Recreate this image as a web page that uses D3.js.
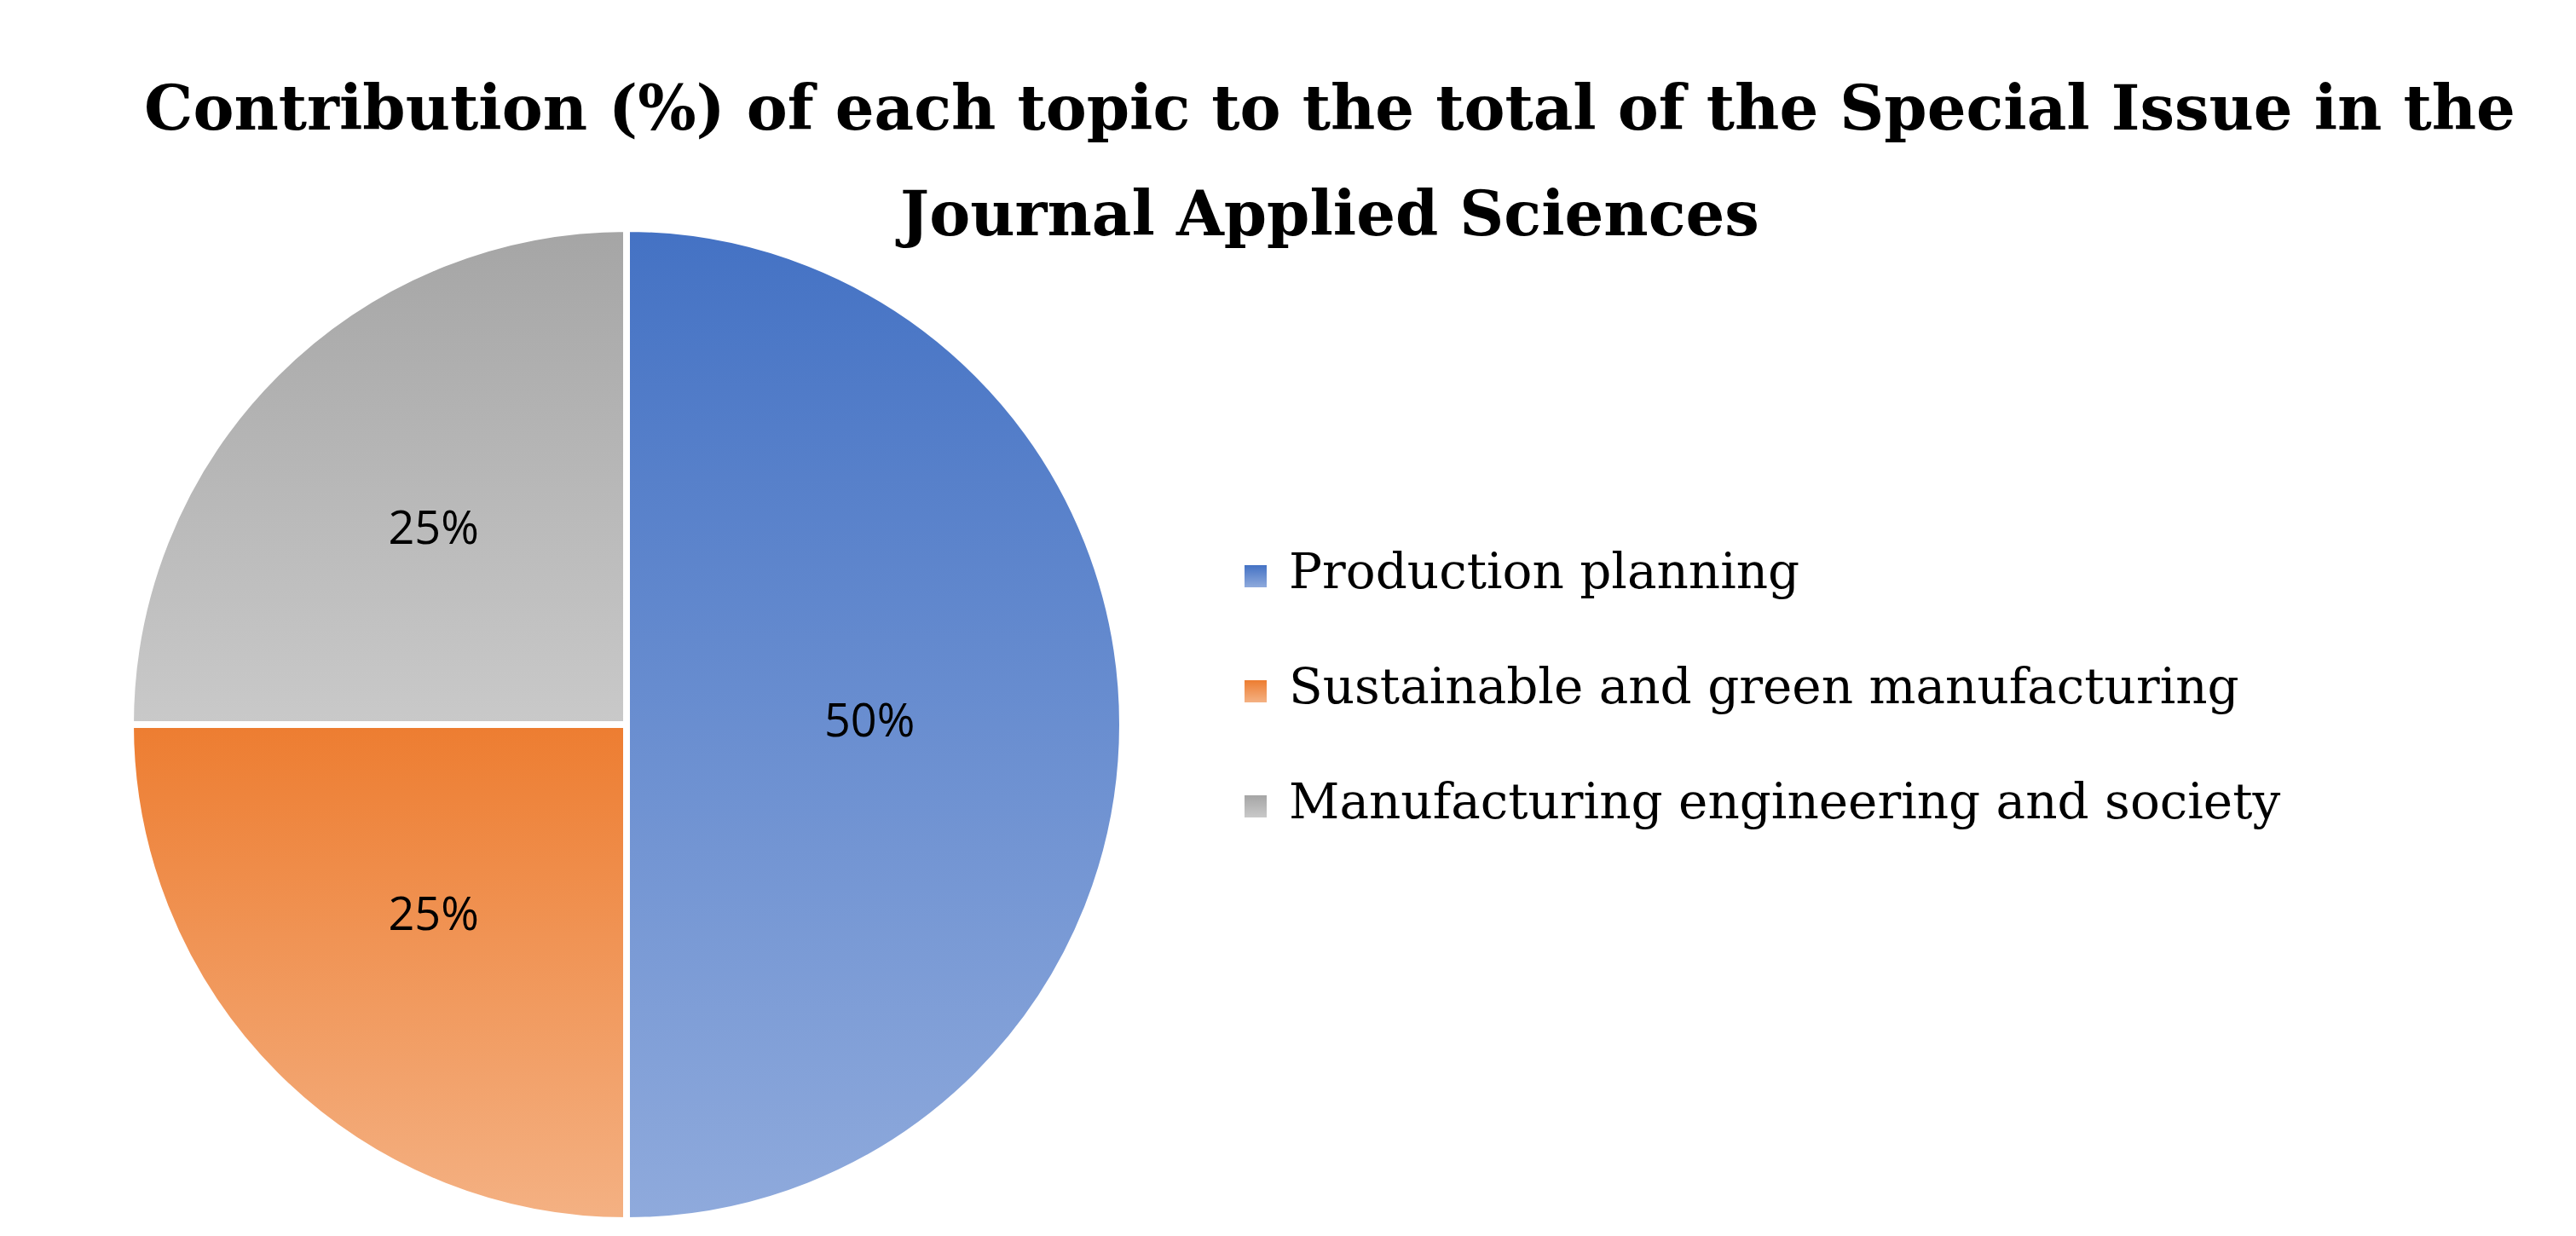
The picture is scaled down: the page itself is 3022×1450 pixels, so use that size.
<!DOCTYPE html>
<html><head><meta charset="utf-8">
<script src="https://cdn.jsdelivr.net/npm/d3@7/dist/d3.min.js"></script>
<style>body{margin:0;background:#fff}</style></head>
<body><svg id="c" width="3022" height="1450"></svg>
<script>
const categories = ["Production planning","Sustainable and green manufacturing","Manufacturing engineering and society"];
const values = [50,25,25];
const labels = ["50%","25%","25%"];
const colorsTop = ["#4472C4","#ED7D31","#A5A5A5"];
const colorsBottom = ["#8FAADC","#F4B183","#C9C9C9"];
const titleLines = ["Contribution (%) of each topic to the total of the Special Issue in the","Journal Applied Sciences"];

const svg = d3.select("#c");
const defs = svg.append("defs");
colorsTop.forEach((c,i)=>{
  const g = defs.append("linearGradient").attr("id","g"+i).attr("x1",0).attr("y1",0).attr("x2",0).attr("y2",1);
  g.append("stop").attr("offset","0%").attr("stop-color",c);
  g.append("stop").attr("offset","100%").attr("stop-color",colorsBottom[i]);
});
svg.selectAll("text.title").data(titleLines).join("text").attr("class","title")
  .attr("x",1560).attr("y",(d,i)=>152+i*124).attr("text-anchor","middle")
  .attr("font-family","'DejaVu Serif', 'Liberation Serif', serif").attr("font-weight","bold")
  .attr("font-size",72).text(d=>d);

const cx=735, cy=850, r=582;
const pie = d3.pie().sort(null).value(d=>d)(values);
const arc = d3.arc().innerRadius(0).outerRadius(r);
const g = svg.append("g").attr("transform",`translate(${cx},${cy})`);
g.selectAll("path").data(pie).join("path").attr("d",arc)
  .attr("fill",(d,i)=>`url(#g${i})`).attr("stroke","#fff").attr("stroke-width",8);
const la = d3.arc().innerRadius(r*0.55).outerRadius(r*0.55);
g.selectAll("text").data(pie).join("text")
  .attr("transform",(d,i)=>{const c=la.centroid(d); return `translate(${i==0?c[0]-35:c[0]},${c[1]})`;})
  .attr("text-anchor","middle").attr("dominant-baseline","middle")
  .attr("font-family","'Open Sans', 'Liberation Sans', sans-serif").attr("font-size",54)
  .attr("fill","#000").text((d,i)=>labels[i]);

const lg = svg.append("g");
categories.forEach((c,i)=>{
  const y = 675 + i*135;
  lg.append("rect").attr("x",1460).attr("y",y-12).attr("width",26).attr("height",26).attr("fill",`url(#g${i})`);
  lg.append("text").attr("x",1512).attr("y",y).attr("dominant-baseline","middle")
    .attr("font-family","'DejaVu Serif', 'Liberation Serif', serif").attr("font-size",58).text(c);
});
</script></body></html>
